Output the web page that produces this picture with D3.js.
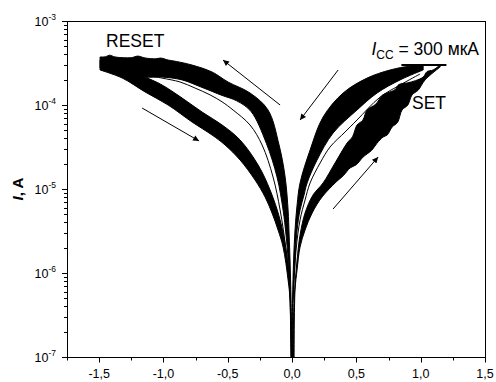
<!DOCTYPE html>
<html>
<head>
<meta charset="utf-8">
<script src="https://cdn.jsdelivr.net/npm/d3@7"></script>
<style>
  html, body { margin: 0; padding: 0; background: #fff; }
  svg { display: block; font-family: "Liberation Sans", Arial, sans-serif; }
</style>
</head>
<body>
<svg id="chart" width="496" height="382"></svg>
<script>
// Axis ticks
const xTicks = [-1.5, -1.0, -0.5, 0.0, 0.5, 1.0, 1.5];
const xTickLabels = ["-1,5", "-1,0", "-0,5", "0,0", "0,5", "1,0", "1,5"];
const yTickExponents = [-7, -6, -5, -4, -3];

// Positive branch, low-resistance return sweep (V, A): two edges of the cycle bundle
const posLrsUpper = [[0,1e-7],[0.004,4.77e-7],[0.012,1.43e-6],[0.023,3.25e-6],[0.039,6.45e-6],[0.062,1.18e-5],
  [0.140,2.91e-5],[0.241,7.18e-5],[0.397,1.39e-4],[0.583,2.09e-4],[0.762,2.61e-4],[0.918,2.91e-4],[1.019,3.0e-4]];
const posLrsLower = [[0.004,1e-7],[0.008,4.77e-7],[0.023,1.43e-6],[0.039,3.25e-6],[0.062,5.62e-6],[0.093,8.5e-6],
  [0.117,1.18e-5],[0.194,2.21e-5],[0.319,4.64e-5],[0.505,8.72e-5],[0.661,1.39e-4],[0.840,1.99e-4],[1.019,2.61e-4]];

// Positive branch, SET sweep (V, A)
const posSetUpper = [[0.008,1e-7],[0.016,4.77e-7],[0.039,1.43e-6],[0.062,2.83e-6],[0.101,5.18e-6],[0.163,8.49e-6],
  [0.241,1.18e-5],[0.334,2.04e-5],[0.428,3.53e-5],[0.47,4.2e-5],[0.505,5.78e-5],[0.55,6.6e-5],[0.583,8.72e-5],
  [0.65,1.02e-4],[0.70,1.3e-4],[0.739,1.39e-4],[0.80,1.52e-4],[0.83,1.75e-4],[0.894,1.83e-4],[0.96,1.95e-4],
  [1.019,2.15e-4],[1.05,2.5e-4],[1.096,2.61e-4],[1.151,3.0e-4]];
const posSetLower = [[0.016,1e-7],[0.023,6.28e-7],[0.039,1.09e-6],[0.062,2.04e-6],[0.101,3.25e-6],[0.156,5.18e-6],
  [0.233,8.03e-6],[0.342,1.21e-5],[0.40,1.45e-5],[0.451,1.78e-5],[0.50,1.95e-5],[0.552,2.40e-5],[0.62,2.9e-5],
  [0.66,3.5e-5],[0.708,4.16e-5],[0.74,4.4e-5],[0.778,5.47e-5],[0.82,6.2e-5],[0.855,8.72e-5],[0.90,1.0e-4],
  [0.933,1.32e-4],[0.98,1.5e-4],[1.034,1.99e-4],[1.151,2.83e-4]];

// Single cycle running between the positive bundles
const posSingle = [[0.008,4.77e-7],[0.031,1.88e-6],[0.062,4.28e-6],[0.101,7.4e-6],[0.140,1.18e-5],[0.218,2.04e-5],
  [0.295,3.16e-5],[0.412,4.77e-5],[0.505,6.63e-5],[0.684,1.24e-4],[0.840,1.73e-4],[0.995,2.34e-4]];

// Compliance current
const ccVoltage = [0.85, 1.2];
const ccCurrent = 3e-4;

// Negative branch, low-resistance forward sweep up to RESET (V, A)
const negLrsUpper = [[0,1e-7],[-0.008,4.77e-7],[-0.016,1.43e-6],[-0.023,2.83e-6],[-0.031,5.62e-6],[-0.054,1.39e-5],
  [-0.101,3.34e-5],[-0.187,8.72e-5],[-0.327,1.39e-4],[-0.498,1.88e-4],[-0.622,2.47e-4],[-0.778,2.99e-4],
  [-0.90,3.3e-4],[-0.964,3.43e-4],[-1.02,3.62e-4],[-1.06,3.55e-4],[-1.143,3.63e-4],[-1.20,3.82e-4],
  [-1.25,3.66e-4],[-1.376,3.73e-4],[-1.42,3.92e-4],[-1.45,3.75e-4],[-1.493,3.73e-4]];
const negLrsLower = [[-0.008,1e-7],[-0.016,4.77e-7],[-0.031,1.43e-6],[-0.047,2.83e-6],[-0.070,5.62e-6],
  [-0.117,1.39e-5],[-0.200,3.5e-5],[-0.32,8.4e-5],[-0.43,1.12e-4],[-0.544,1.3e-4],[-0.700,1.62e-4],
  [-0.855,1.99e-4],[-1.011,2.15e-4],[-1.143,2.15e-4],[-1.337,2.47e-4],[-1.493,2.76e-4]];

// Negative branch, high-resistance return sweep (V, A)
const negHrsUpper = [[-1.493,3.43e-4],[-1.143,2.15e-4],[-1.011,1.73e-4],[-0.855,1.21e-4],[-0.700,8.25e-5],
  [-0.544,5.78e-5],[-0.404,3.83e-5],[-0.264,1.93e-5],[-0.171,9.73e-6],[-0.093,4.28e-6],[-0.047,1.88e-6],
  [-0.016,6.28e-7],[-0.004,1e-7]];
const negHrsLower = [[-1.493,2.61e-4],[-1.322,2.10e-4],[-1.143,1.43e-4],[-0.964,1.0e-4],[-0.778,6.28e-5],
  [-0.622,4.39e-5],[-0.521,3.34e-5],[-0.404,2.21e-5],[-0.288,1.28e-5],[-0.210,8.03e-6],[-0.156,5.18e-6],
  [-0.109,3.25e-6],[-0.070,2.04e-6],[-0.031,8.26e-7],[-0.016,4.77e-7],[-0.008,1e-7]];

// Single cycle running between the negative bundles
const negSingle = [[-1.104,2.22e-4],[-1.011,2.09e-4],[-0.871,1.88e-4],[-0.754,1.59e-4],[-0.638,1.32e-4],
  [-0.544,1.09e-4],[-0.459,8.72e-5],[-0.327,5.78e-5],[-0.233,3.34e-5],[-0.148,1.39e-5],[-0.093,5.62e-6],
  [-0.047,1.88e-6],[-0.016,6.28e-7]];

// Sweep-direction arrows: [from, to] in (V, A)
const sweepArrows = [
  [[-0.093, 1.0e-4], [-0.537, 3.43e-4]],
  [[-1.166, 9.2e-5], [-0.723, 3.73e-5]],
  [[0.358, 2.61e-4], [0.062, 6.63e-5]],
  [[0.319, 5.78e-6], [0.669, 2.4e-5]]
];

const W = 496, H = 382;
const margin = { left: 67, right: 11, top: 21, bottom: 25 };
const x = d3.scaleLinear().domain([-1.75, 1.5]).range([margin.left, W - margin.right]);
const y = d3.scaleLog().domain([1e-7, 1e-3]).range([H - margin.bottom, margin.top]);

const svg = d3.select("#chart");
const defs = svg.append("defs");

const pLeft = x(-1.75), pRight = x(1.5), pTop = y(1e-3), pBottom = y(1e-7);

defs.append("clipPath").attr("id", "plotClip")
  .append("rect").attr("x", pLeft).attr("y", pTop)
  .attr("width", pRight - pLeft).attr("height", pBottom - pTop);

defs.append("marker")
  .attr("id", "arrowHead").attr("viewBox", "0 0 10 10")
  .attr("refX", 10).attr("refY", 5)
  .attr("markerWidth", 10).attr("markerHeight", 6)
  .attr("markerUnits", "userSpaceOnUse")
  .attr("orient", "auto")
  .append("path").attr("d", "M0,0 L10,5 L0,10 Z").attr("fill", "#000");

const plot = svg.append("g").attr("clip-path", "url(#plotClip)");

const line = d3.line().x(d => x(d[0])).y(d => y(d[1])).curve(d3.curveCatmullRom.alpha(0.5));

// A bundle of cycles is drawn as the region between its two edges
function band(edgeA, edgeB) {
  const a = line(edgeA);
  const b = line(edgeB.slice().reverse());
  return a + "L" + b.slice(1) + "Z";
}

const bands = [
  [posLrsUpper, posLrsLower],
  [posSetUpper, posSetLower],
  [negLrsUpper, negLrsLower],
  [negHrsUpper, negHrsLower]
];
plot.selectAll("path.band").data(bands).join("path")
  .attr("class", "band")
  .attr("d", d => band(d[0], d[1]))
  .attr("fill", "#000").attr("stroke", "#000").attr("stroke-width", 1).attr("stroke-linejoin", "round");

plot.selectAll("path.single").data([posSingle, negSingle]).join("path")
  .attr("class", "single")
  .attr("d", line)
  .attr("fill", "none").attr("stroke", "#000").attr("stroke-width", 1);

plot.append("line")
  .attr("x1", x(ccVoltage[0])).attr("x2", x(ccVoltage[1]))
  .attr("y1", y(ccCurrent)).attr("y2", y(ccCurrent))
  .attr("stroke", "#000").attr("stroke-width", 2);

svg.selectAll("line.arrow").data(sweepArrows).join("line")
  .attr("class", "arrow")
  .attr("x1", d => x(d[0][0])).attr("y1", d => y(d[0][1]))
  .attr("x2", d => x(d[1][0])).attr("y2", d => y(d[1][1]))
  .attr("stroke", "#000").attr("stroke-width", 1)
  .attr("marker-end", "url(#arrowHead)");

// Frame
svg.append("rect")
  .attr("x", pLeft + 0.5).attr("y", pTop + 0.5)
  .attr("width", pRight - pLeft).attr("height", pBottom - pTop)
  .attr("fill", "none").attr("stroke", "#000").attr("stroke-width", 1);

// X axis ticks
const xMinor = d3.range(-1.75, 1.5001, 0.25);
const xg = svg.append("g");
xg.selectAll("line.minor").data(xMinor).join("line")
  .attr("class", "minor")
  .attr("x1", d => Math.round(x(d)) + 0.5).attr("x2", d => Math.round(x(d)) + 0.5)
  .attr("y1", pBottom).attr("y2", pBottom + 3.5)
  .attr("stroke", "#000");
xg.selectAll("line.major").data(xTicks).join("line")
  .attr("class", "major")
  .attr("x1", d => Math.round(x(d)) + 0.5).attr("x2", d => Math.round(x(d)) + 0.5)
  .attr("y1", pBottom).attr("y2", pBottom + 5.5)
  .attr("stroke", "#000");
xg.selectAll("text").data(xTicks).join("text")
  .attr("x", d => x(d)).attr("y", pBottom + 21)
  .attr("text-anchor", "middle").attr("font-size", 12.5)
  .text((d, i) => xTickLabels[i]);

// Y axis ticks (log decades with minor ticks)
const yMinor = [];
yTickExponents.slice(0, -1).forEach(e => { for (let k = 2; k <= 9; k++) yMinor.push(k * Math.pow(10, e)); });
const yg = svg.append("g");
yg.selectAll("line.minor").data(yMinor).join("line")
  .attr("class", "minor")
  .attr("x1", pLeft - 3).attr("x2", pLeft + 0.5)
  .attr("y1", d => Math.round(y(d)) + 0.5).attr("y2", d => Math.round(y(d)) + 0.5)
  .attr("stroke", "#000");
yg.selectAll("line.major").data(yTickExponents).join("line")
  .attr("class", "major")
  .attr("x1", pLeft - 5).attr("x2", pLeft + 0.5)
  .attr("y1", d => Math.round(y(Math.pow(10, d))) + 0.5).attr("y2", d => Math.round(y(Math.pow(10, d))) + 0.5)
  .attr("stroke", "#000");
const yLabels = yg.selectAll("text").data(yTickExponents).join("text")
  .attr("x", pLeft - 11).attr("y", d => y(Math.pow(10, d)) + 5)
  .attr("text-anchor", "end").attr("font-size", 12.5);
yLabels.append("tspan").text("10");
yLabels.append("tspan").attr("dy", -6).attr("font-size", 8.5).text(d => String(d));

// Axis title
const yTitle = svg.append("text")
  .attr("transform", `translate(23,${(pTop + pBottom) / 2}) rotate(-90)`)
  .attr("text-anchor", "middle").attr("font-size", 15).attr("font-weight", "bold");
yTitle.append("tspan").attr("font-style", "italic").text("I");
yTitle.append("tspan").text(", A");

// Annotations
svg.append("text").attr("x", 106).attr("y", 47).attr("font-size", 17.5).text("RESET");
svg.append("text").attr("x", 412).attr("y", 109).attr("font-size", 17.5).text("SET");
const cc = svg.append("text").attr("x", 479).attr("y", 55).attr("text-anchor", "end").attr("font-size", 17.5);
cc.append("tspan").attr("font-style", "italic").text("I");
cc.append("tspan").attr("font-size", 12).attr("dy", 4).text("CC");
cc.append("tspan").attr("dy", -4).text(" = 300 мкА");
</script>
</body>
</html>
